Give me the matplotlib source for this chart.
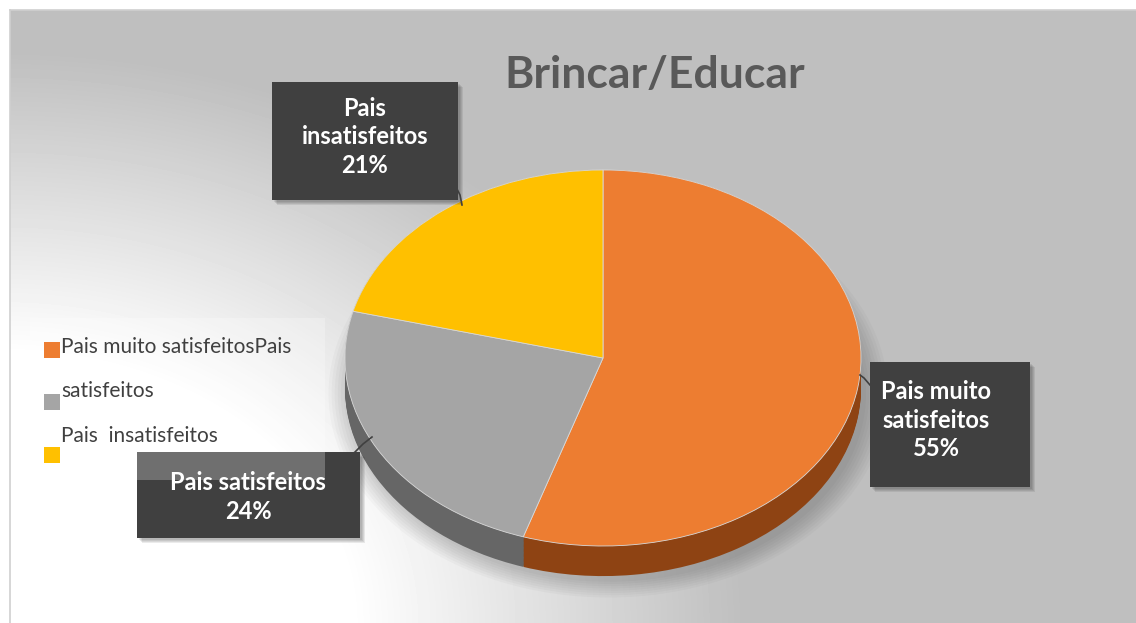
import numpy as np
import matplotlib
matplotlib.use("Agg")
import matplotlib.pyplot as plt
from matplotlib.patches import Rectangle

# data
categories = ["Pais muito satisfeitos", "Pais satisfeitos", "Pais insatisfeitos"]
values = [55, 24, 21]
colors = ["#ED7D31", "#A5A5A5", "#FFC000"]
side_colors = ["#8E4313", "#666666", "#9A7400"]
title = "Brincar/Educar"
# legend text as it appears in the chart (wrapped oddly)
legend_text = ["Pais muito satisfeitosPais", "satisfeitos", "Pais  insatisfeitos"]
box_text = ["Pais muito\nsatisfeitos\n55%", "Pais satisfeitos\n24%", "Pais\ninsatisfeitos\n21%"]

plt.rcParams['font.family'] = ['Lato', 'DejaVu Sans']

W, H = 1136, 623
fig = plt.figure(figsize=(W / 100, H / 100), dpi=100)
fig.patch.set_facecolor("white")

# background with soft gradient, white in the lower left corner
bg = fig.add_axes([10 / W, 0, 1 - 10 / W, (H - 10) / H], zorder=0)
yy, xx = np.mgrid[10:H, 10:W]
d = np.sqrt((xx / 1.3) ** 2 + (yy - 623.0) ** 2)
v = 255 - 64 * np.clip((d - 270) / 300.0, 0, 1)
bg.imshow(v, cmap="gray", vmin=0, vmax=255, aspect="auto", extent=(10, W, H, 10))
bg.set_xticks([])
bg.set_yticks([])
for s in ["right", "bottom"]:
    bg.spines[s].set_visible(False)
for s in ["left", "top"]:
    bg.spines[s].set_color("#cfcfcf")
    bg.spines[s].set_linewidth(1.2)

# pie axes: ellipse centre (603, 358), rx 258, ry 188 pixels
cx, cy, rx, ry = 603, 358, 258, 188
xl, xh, yl, yh = -1.2, 1.2, -1.45, 1.2
left = (cx + xl * rx) / W
width = (xh - xl) * rx / W
top_px = cy - yh * ry
bottom_px = cy - yl * ry
ax = fig.add_axes([left, (H - bottom_px) / H, width, (bottom_px - top_px) / H], zorder=1)
ax.set_facecolor("none")

depth = 0.16
# soft shadow under pie
for k in range(8):
    ax.pie([1], colors=["#000000"], radius=1.0 + 0.012 * k, center=(0.02, -depth - 0.03),
           wedgeprops=dict(alpha=0.025, linewidth=0))
# sides of the 3d pie
for dz in np.linspace(depth, 0.0, 25):
    ax.pie(values, colors=side_colors, startangle=90, counterclock=False,
           center=(0, -dz), wedgeprops=dict(linewidth=0))
# top face
ax.pie(values, colors=colors, startangle=90, counterclock=False,
       wedgeprops=dict(linewidth=0.6, edgecolor="#d9d9d9"))
ax.set_aspect("auto")
ax.set_xlim(xl, xh)
ax.set_ylim(yl, yh)
ax.axis("off")

# overlay in pixel coordinates for title, labels and legend
ov = fig.add_axes([0, 0, 1, 1], zorder=2)
ov.set_xlim(0, W)
ov.set_ylim(H, 0)
ov.axis("off")
ov.set_facecolor("none")

ov.text(655, 75, title, ha="center", va="center", fontsize=32, fontweight="bold", color="#595959")


def label_box(x0, y0, x1, y1, text, tx, ty):
    for k in range(4):
        ov.add_patch(Rectangle((x0 + 2 + k, y0 + 2 + k), x1 - x0, y1 - y0,
                               facecolor="black", alpha=0.08, linewidth=0))
    ov.add_patch(Rectangle((x0, y0), x1 - x0, y1 - y0, facecolor="#404040", linewidth=0))
    ov.text(tx, ty, text, ha="center", va="center", fontsize=17, fontweight="bold",
            color="white", linespacing=1.3)


# leader lines
ov.plot([455, 460, 462], [185, 195, 205], color="#404040", lw=1.2)
ov.plot([355, 363, 372], [452, 444, 437], color="#404040", lw=1.2)
ov.plot([870, 864, 860], [385, 378, 375], color="#404040", lw=1.2)

label_box(870, 362, 1030, 487, box_text[0], 936, 420)
label_box(137, 452, 360, 538, box_text[1], 248, 497)
label_box(272, 82, 458, 200, box_text[2], 365, 137)

# legend
ov.add_patch(Rectangle((30, 318), 295, 162, facecolor="white", alpha=0.25, linewidth=0))
sq_y = [342, 394, 447]
txt_y = [347, 391, 436]
for c, t, sy, ty in zip(colors, legend_text, sq_y, txt_y):
    ov.add_patch(Rectangle((44, sy), 16, 16, facecolor=c, linewidth=0))
    ov.text(61, ty, t, ha="left", va="center", fontsize=15, color="#404040")

fig.savefig("out.png", dpi=100)
